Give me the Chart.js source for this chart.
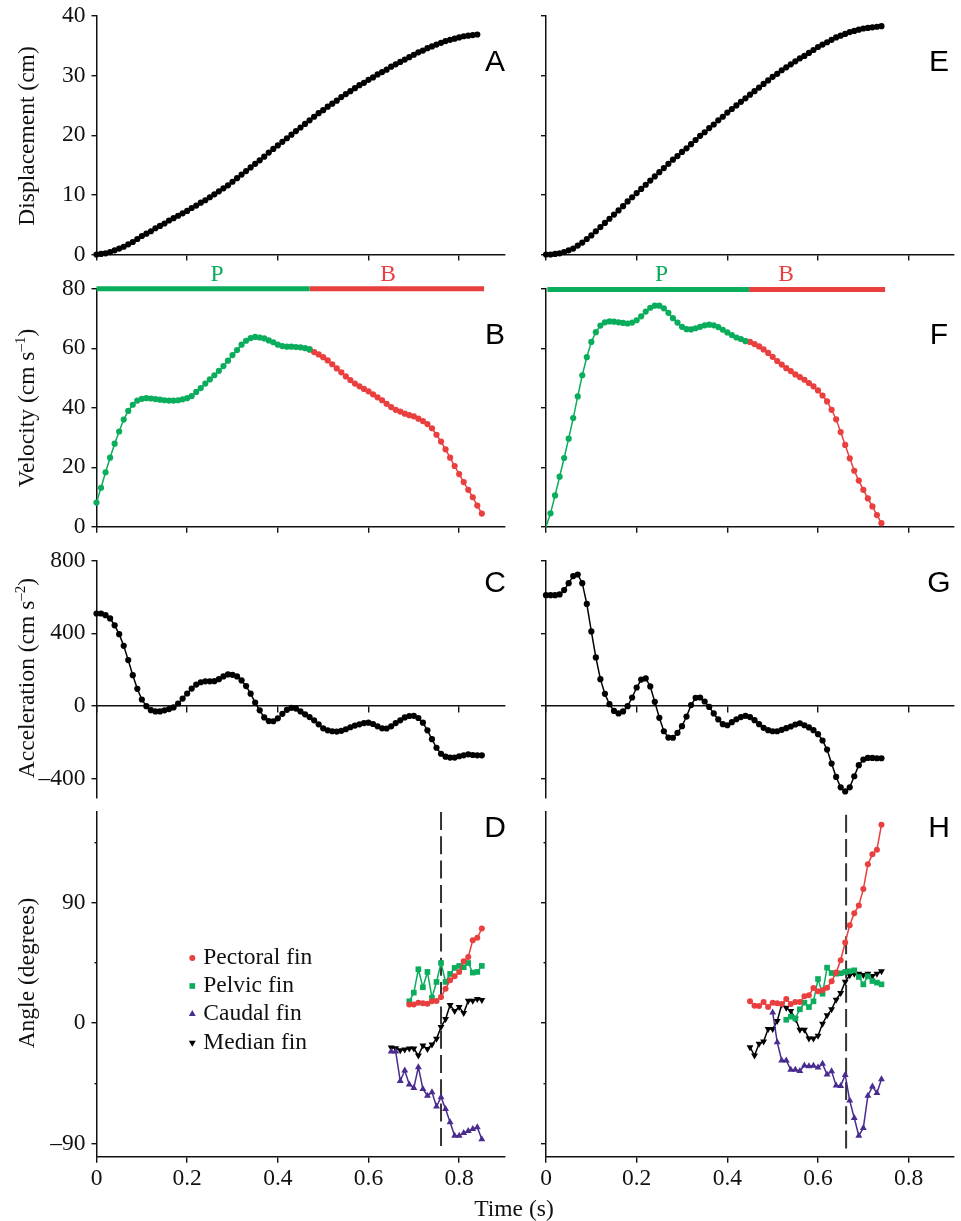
<!DOCTYPE html>
<html>
<head>
<meta charset="utf-8">
<title>Fin kinematics</title>
<script src="https://cdn.jsdelivr.net/npm/chart.js@4/dist/chart.umd.min.js"></script>
<style>
  html, body { margin: 0; padding: 0; background: #fff; }
  #page { position: relative; width: 961px; height: 1221px; overflow: hidden; }
  canvas { position: absolute; left: 0; top: 0; }
</style>
</head>
<body>
<div id="page"></div>
<script>
// sample times (s), shared by the top three rows of both columns
const sampleTimes = [0,0.01,0.02,0.03,0.04,0.05,0.06,0.07,0.08,0.09,0.1,0.11,0.12,0.13,0.14,0.15,0.16,0.17,0.18,0.19,
  0.2,0.21,0.22,0.23,0.24,0.25,0.26,0.27,0.28,0.29,0.3,0.31,0.32,0.33,0.34,0.35,0.36,0.37,0.38,0.39,
  0.4,0.41,0.42,0.43,0.44,0.45,0.46,0.47,0.48,0.49,0.5,0.51,0.52,0.53,0.54,0.55,0.56,0.57,0.58,0.59,
  0.6,0.61,0.62,0.63,0.64,0.65,0.66,0.67,0.68,0.69,0.7,0.71,0.72,0.73,0.74,0.75,0.76,0.77,0.78,0.79,
  0.8,0.81,0.82,0.83,0.84,0.85];

// left column
const displacementA = [0,0.1,0.2,0.4,0.7,1,1.3,1.7,2.1,2.6,3.1,3.5,3.9,4.4,4.8,5.2,5.7,6.1,6.5,6.9,
  7.3,7.8,8.2,8.7,9.1,9.6,10.1,10.6,11.1,11.6,12.2,12.8,13.4,14,14.6,15.2,15.8,16.4,17.1,17.7,
  18.3,18.9,19.5,20.1,20.7,21.3,21.9,22.5,23.1,23.7,24.2,24.8,25.3,25.8,26.4,26.9,27.4,27.9,28.4,28.8,
  29.3,29.7,30.2,30.6,31,31.5,31.9,32.3,32.7,33.1,33.5,33.9,34.2,34.6,34.9,35.2,35.5,35.8,36,36.2,
  36.4,36.6,36.7,36.8,36.9];
const velocityB = [8.1,13.1,18.3,23.2,27.9,32,36,38.9,41,42.4,43,43.2,43.1,42.9,42.7,42.5,42.4,42.4,42.5,42.8,
  43.2,43.9,45.3,46.6,48.1,49.5,50.9,52.4,54,55.8,57.7,59.4,61.2,62.5,63.4,63.8,63.6,63.3,62.6,62,
  61.2,60.7,60.5,60.5,60.4,60.3,60,59.6,58.7,57.9,57,55.9,54.6,53.2,51.9,50.5,49.3,48.1,47.2,46.3,
  45.5,44.5,43.5,42.5,41.3,40.2,39.3,38.7,38,37.5,37.1,36.3,35.5,34.5,33.1,30.9,28.6,26,23.2,20.4,
  17.7,15,12.4,9.9,7.1,4.4];
const accelerationC = [509,509,500,482,444,395,331,252,169,94,35,-2,-24,-31,-31,-25,-18,-9,13,40,
  68,95,117,130,135,135,136,147,162,173,171,162,140,109,67,18,-25,-64,-84,-85,
  -69,-44,-22,-11,-15,-31,-47,-62,-80,-102,-124,-135,-140,-142,-138,-129,-118,-109,-102,-95,
  -93,-100,-113,-124,-125,-113,-95,-80,-64,-56,-55,-67,-93,-135,-184,-231,-264,-280,-285,-285,
  -278,-273,-267,-271,-273,-273];

const finTimesD = [0.65,0.66,0.67,0.68,0.69,0.7,0.71,0.72,0.73,0.74,0.75,0.76,0.77,0.78,0.79,0.8,0.81,0.82,0.83,0.84,0.85];
const pectoralTimesD = [0.69,0.7,0.71,0.72,0.73,0.74,0.75,0.76,0.77,0.78,0.79,0.8,0.81,0.82,0.83,0.84,0.85];
const pectoralD = [14,14,15.3,14.8,14.5,16.3,16.5,19.5,25.8,32,35,38.3,46.3,49.5,62,63.8,70.8];
const pelvicD = [16.3,22.8,40.3,26.8,38.3,19,30.8,45,30.8,36.8,41.3,42.8,41.8,45,37.8,38.3,42.8];
const caudalD = [-21.3,-21.3,-43.3,-35.5,-46,-48.5,-33,-49.3,-54.3,-51.8,-62.5,-55.5,-64.3,-74.3,-84.3,-84.3,-82.3,-80.8,-79.3,-78,-87];
const medianD = [-18.3,-18.8,-20.3,-19.8,-19,-19,-24.3,-16.8,-19.3,-16,-11.8,-3,3,13.5,9,12,7.5,16.8,16.8,18,17.3];

// right column
const displacementE = [0,0,0.1,0.2,0.4,0.7,1,1.5,2,2.6,3.2,3.9,4.6,5.3,6,6.7,7.4,8.1,8.9,9.6,
  10.3,11,11.7,12.4,13.1,13.8,14.5,15.2,15.9,16.5,17.2,17.8,18.5,19.2,19.9,20.5,21.2,21.8,22.5,23.1,
  23.8,24.4,25,25.6,26.2,26.8,27.4,28,28.6,29.2,29.8,30.3,30.9,31.4,31.9,32.4,32.9,33.3,33.8,34.3,
  34.8,35.2,35.6,36,36.4,36.7,37,37.3,37.5,37.7,37.9,38,38.1,38.2,38.3];
const velocityF = [0,4.5,10.5,16.8,23.1,29.6,36.5,43.8,50.9,57,62.1,65.4,67.6,68.7,69,68.9,68.7,68.5,68.3,68.6,
  69.4,70.7,72.3,73.6,74.3,74.3,73.4,71.9,70.1,68.6,67.2,66.4,66.3,66.7,67.2,67.7,67.9,67.7,67.1,66.2,
  65.3,64.4,63.6,63.1,62.4,62.1,61.4,60.6,59.6,58.4,57.1,55.7,54.5,53.3,52.3,51.2,50.3,49.4,48.3,47.2,
  45.8,44.1,42.1,39.3,36.1,31.8,27.5,23,18.8,15.5,12.4,9.5,6.8,3.9,1.2];
const accelerationG = [610,610,610,614,638,676,715,724,676,562,410,267,147,66,9,-28,-42,-31,-2,46,
  101,145,151,107,22,-66,-140,-175,-176,-149,-112,-59,4,44,46,24,-6,-42,-75,-101,
  -107,-90,-74,-62,-55,-62,-79,-101,-121,-134,-140,-140,-132,-123,-114,-103,-96,-107,-119,-134,
  -156,-191,-241,-318,-392,-449,-472,-449,-388,-327,-296,-287,-287,-289,-289];

const pectoralTimesH = [0.45,0.46,0.47,0.48,0.49,0.5,0.51,0.52,0.53,0.54,0.55,0.56,0.57,0.58,0.59,0.6,0.61,0.62,0.63,0.64,0.65,0.66,0.67,0.68,0.69,0.7,0.71,0.72,0.73,0.74];
const pectoralH = [16.3,13,12.8,15.8,12,15.3,14.8,14.3,18,14.3,15.8,15.8,20,20.8,26.3,23.8,24.5,26.5,31.3,37.8,47,60.3,73.3,82.3,88,100.3,118.8,126.3,129.8,148.5];
const pelvicTimesH = [0.53,0.54,0.55,0.56,0.57,0.58,0.59,0.6,0.61,0.62,0.63,0.64,0.65,0.66,0.67,0.68,0.69,0.7,0.71,0.72,0.73,0.74];
const pelvicH = [2.5,4.8,3.5,10.3,15.3,12,16.3,33,22,41.5,37.5,37,37.3,38.3,38.8,39.5,34.5,29,35,31.5,30.3,29];
const caudalTimesH = [0.5,0.51,0.52,0.53,0.54,0.55,0.56,0.57,0.58,0.59,0.6,0.61,0.62,0.63,0.64,0.65,0.66,0.67,0.68,0.69,0.7,0.71,0.72,0.73,0.74];
const caudalH = [8,-14.3,-28,-28,-35,-35,-35.8,-31.8,-32.3,-32,-33.3,-30.5,-38.5,-36,-46.8,-47,-38.8,-58,-71,-84.3,-78.5,-54.3,-47.5,-52.3,-42];
const medianH = [-18,-24.3,-15.5,-13.8,-4.5,-4.5,1.5,14,11.5,9,3.3,-5,-5,-11.5,-11.5,-9.5,-0.5,5.8,10.3,17.5,22.5,31,35.8,37,37,36,37,35.3,37,38.8];

// propulsive / braking phases and the dashed event lines
const phaseTimesLeft = [0, 0.47, 0.855];
const phaseTimesRight = [0.003, 0.448, 0.748];
const velocitySplitLeft = 0.47;
const velocitySplitRight = 0.44;
const eventTimeD = 0.76;
const eventTimeH = 0.662;

// axis ticks
const timeTicks = [0, 0.2, 0.4, 0.6, 0.8];
const timeLabels = ["0", "0.2", "0.4", "0.6", "0.8"];
const displacementTicks = [0, 10, 20, 30, 40];
const displacementLabels = ["0", "10", "20", "30", "40"];
const velocityTicks = [0, 20, 40, 60, 80];
const velocityLabels = ["0", "20", "40", "60", "80"];
const accelerationTicks = [-400, 0, 400, 800];
const accelerationLabels = ["–400", "0", "400", "800"];
const angleTicks = [-90, 0, 90];
const angleMinorTicks = [-45, 45, 135];
const angleLabels = ["–90", "0", "90"];
const finNames = ["Pectoral fin", "Pelvic fin", "Caudal fin", "Median fin"];

const GREEN = "#0aad5c", RED = "#e93f3f", PURPLE = "#4a2c8f", BLACK = "#000";
const SERIF = '"Liberation Serif", serif';
const SANS = '"Liberation Sans", sans-serif';
const FONT_SIZE = 23.5;

const finStyles = [
  { color: RED, pointStyle: "circle", radius: 3, rotation: 0 },
  { color: GREEN, pointStyle: "rect", radius: 4, rotation: 0 },
  { color: PURPLE, pointStyle: "triangle", radius: 4, rotation: 0 },
  { color: BLACK, pointStyle: "triangle", radius: 4, rotation: 180 },
];

function toPoints(times, values) {
  return values.map((v, i) => ({ x: times[i], y: v }));
}

function curve(points, color, radius) {
  return {
    data: points, borderColor: color, backgroundColor: color, borderWidth: 1.5,
    pointRadius: radius || 3.1, pointBorderWidth: 0,
    tension: 0, clip: false,
  };
}

function phaseBar(times, level) {
  return [
    { data: [{ x: times[0], y: level }, { x: times[1], y: level }], borderColor: GREEN, borderWidth: 5, pointRadius: 0, clip: false },
    { data: [{ x: times[1], y: level }, { x: times[2], y: level }], borderColor: RED, borderWidth: 5, pointRadius: 0, clip: false },
  ];
}

function finCurve(times, values, style) {
  return {
    data: toPoints(times, values), borderColor: style.color, backgroundColor: style.color, borderWidth: 1.5,
    pointStyle: style.pointStyle, pointRadius: style.radius, pointRotation: style.rotation, pointBorderWidth: 0,
    tension: 0, clip: false,
  };
}

function eventLine(t, yTop, yBottom) {
  return {
    data: [{ x: t, y: yTop }, { x: t, y: yBottom }], borderColor: "#333", borderWidth: 2,
    borderDash: [18, 6.3], pointRadius: 0, clip: false,
  };
}

// draws a rotated axis title, with optional superscript part
function drawYTitle(ctx, parts, x, centerY) {
  ctx.save();
  ctx.translate(x, centerY);
  ctx.rotate(-Math.PI / 2);
  ctx.fillStyle = "#111";
  ctx.textAlign = "left";
  ctx.textBaseline = "alphabetic";
  let total = 0;
  parts.forEach(p => {
    ctx.font = (p.sup ? 15 : FONT_SIZE) + "px " + SERIF;
    total += ctx.measureText(p.text).width;
  });
  let pos = -total / 2;
  parts.forEach(p => {
    ctx.font = (p.sup ? 15 : FONT_SIZE) + "px " + SERIF;
    ctx.fillText(p.text, pos, p.sup ? -9 : 0);
    pos += ctx.measureText(p.text).width;
  });
  ctx.restore();
}

function drawText(ctx, text, x, y, font, color, align, baseline) {
  ctx.save();
  ctx.font = font;
  ctx.fillStyle = color;
  ctx.textAlign = align || "center";
  ctx.textBaseline = baseline || "alphabetic";
  ctx.fillText(text, x, y);
  ctx.restore();
}

// panel letter, axis title and other bits the axes do not cover
const panelText = {
  id: "panelText",
  afterDraw(chart, args, opts) {
    const ctx = chart.ctx;
    drawText(ctx, opts.letter.text, opts.letter.x, opts.letter.y, "30px " + SANS, "#000", "center", "middle");
    if (opts.yTitle) drawYTitle(ctx, opts.yTitle.parts, opts.yTitle.x, opts.yTitle.y);
    (opts.phases || []).forEach(p => drawText(ctx, p.text, p.x, 281, FONT_SIZE + "px " + SERIF, p.color));
    if (opts.xTitle) drawText(ctx, opts.xTitle.text, opts.xTitle.x, opts.xTitle.y, FONT_SIZE + "px " + SERIF, "#111");
    if (opts.legend) {
      opts.legend.names.forEach((name, i) => {
        const y = opts.legend.ys[i], st = finStyles[i];
        ctx.save();
        ctx.fillStyle = st.color;
        ctx.strokeStyle = st.color;
        Chart.helpers.drawPoint(ctx, { pointStyle: st.pointStyle, radius: st.radius, rotation: st.rotation, borderWidth: 0 }, opts.legend.markerX, y);
        ctx.restore();
        drawText(ctx, name, opts.legend.textX, y, FONT_SIZE + "px " + SERIF, "#111", "left", "middle");
      });
    }
  },
};

// tick labels must not push the plot box away from its place
function noLabelPadding(s) {
  s.paddingTop = 0;
  s.paddingBottom = 0;
  s.paddingLeft = 0;
  s.paddingRight = 0;
}

function panel(cfg) {
  const canvas = document.createElement("canvas");
  canvas.width = 961;
  canvas.height = 1221;
  canvas.style.width = "961px";
  canvas.style.height = "1221px";
  document.getElementById("page").appendChild(canvas);

  const box = cfg.box;

  const scales = {
    x: {
      type: "linear",
      min: 0,
      max: 0.9,
      position: cfg.xAtZero ? { y: 0 } : "bottom",
      afterBuildTicks(s) { s.ticks = timeTicks.map(v => ({ value: v })); },
      afterFit(s) { s.height = cfg.xAtZero ? 0 : 1221 - box.bottom; noLabelPadding(s); },
      grid: { display: true, drawOnChartArea: false, drawTicks: true, tickLength: 6, color: "#111", lineWidth: 1.4 },
      border: { display: true, color: "#111", width: 1.5 },
      ticks: {
        display: !!cfg.xLabels,
        autoSkip: false,
        maxRotation: 0,
        padding: 2,
        color: "#111",
        font: { family: SERIF, size: FONT_SIZE },
        callback: (v) => timeLabels[timeTicks.indexOf(v)],
      },
    },
    y: {
      type: "linear",
      min: cfg.yMin,
      max: cfg.yMax,
      position: "left",
      afterBuildTicks(s) { s.ticks = cfg.yTicks.map(v => ({ value: v })); },
      afterFit(s) { s.width = box.left; noLabelPadding(s); },
      grid: { display: true, drawOnChartArea: false, drawTicks: true, tickLength: 5, color: "#111", lineWidth: 1.4 },
      border: { display: true, color: "#111", width: 1.5 },
      ticks: {
        display: !!cfg.yLabels,
        autoSkip: false,
        padding: 6,
        color: "#111",
        font: { family: SERIF, size: FONT_SIZE },
        callback: (v) => (cfg.yLabels ? cfg.yLabels[cfg.yTicks.indexOf(v)] : ""),
      },
    },
  };

  // shorter unlabelled ticks on the angle axis
  if (cfg.yMinorTicks) {
    scales.yMinor = {
      type: "linear",
      min: cfg.yMin,
      max: cfg.yMax,
      position: { x: 0 },
      afterBuildTicks(s) { s.ticks = cfg.yMinorTicks.map(v => ({ value: v })); },
      afterFit: noLabelPadding,
      grid: { display: true, drawOnChartArea: false, drawTicks: true, tickLength: 2.5, color: "#111", lineWidth: 1.4 },
      border: { display: false },
      ticks: { display: false, autoSkip: false },
    };
  }

  new Chart(canvas.getContext("2d"), {
    type: "scatter",
    data: { datasets: cfg.datasets.map(d => Object.assign({ showLine: true }, d)) },
    plugins: [panelText],
    options: {
      responsive: false,
      animation: false,
      devicePixelRatio: 1,
      layout: {
        autoPadding: false,
        // the axes are given the rest of the page as their own size, so the plot box lands exactly on box
        padding: { left: 0, top: box.top, right: 961 - box.right, bottom: cfg.xAtZero ? 1221 - box.bottom : 0 },
      },
      plugins: {
        legend: { display: false },
        tooltip: { enabled: false },
        panelText: cfg.text,
      },
      scales: scales,
    },
  });
}

const LEFT = { left: 96.5, right: 504.5 };
const RIGHT = { left: 546, right: 954 };
const ROW_A = { top: 16, bottom: 254.5 };
const ROW_B = { top: 288.7, bottom: 526.7 };
const ROW_C = { top: 560.7, bottom: 798 };
const ROW_D = { top: 812, bottom: 1156.7 };

// top row: displacement
panel({
  box: Object.assign({}, LEFT, ROW_A), yMin: 0, yMax: 40, yTicks: displacementTicks, yLabels: displacementLabels,
  datasets: [curve(toPoints(sampleTimes, displacementA), BLACK)],
  text: { letter: { text: "A", x: 495, y: 63 }, yTitle: { parts: [{ text: "Displacement (cm)" }], x: 34, y: 136 } },
});
panel({
  box: Object.assign({}, RIGHT, ROW_A), yMin: 0, yMax: 40, yTicks: displacementTicks,
  datasets: [curve(toPoints(sampleTimes, displacementE), BLACK)],
  text: { letter: { text: "E", x: 939, y: 63 } },
});

// second row: velocity with phase bar
panel({
  box: Object.assign({}, LEFT, ROW_B), yMin: 0, yMax: 80, yTicks: velocityTicks, yLabels: velocityLabels,
  datasets: [
    ...phaseBar(phaseTimesLeft, 80),
    curve(toPoints(sampleTimes, velocityB).filter(p => p.x <= velocitySplitLeft), GREEN),
    curve(toPoints(sampleTimes, velocityB).filter(p => p.x >= velocitySplitLeft), RED),
  ],
  text: {
    letter: { text: "B", x: 495, y: 336 },
    yTitle: { parts: [{ text: "Velocity (cm s" }, { text: "–1", sup: true }, { text: ")" }], x: 34, y: 408 },
    phases: [{ text: "P", x: 217, color: GREEN }, { text: "B", x: 388, color: RED }],
  },
});
panel({
  box: Object.assign({}, RIGHT, ROW_B), yMin: 0, yMax: 80, yTicks: velocityTicks,
  datasets: [
    ...phaseBar(phaseTimesRight, 79.7),
    // the first sample sits on the origin and shows no dot in the figure
    curve(toPoints(sampleTimes, velocityF).filter(p => p.x <= velocitySplitRight), GREEN, (c) => (c.dataIndex === 0 ? 0 : 3.1)),
    curve(toPoints(sampleTimes, velocityF).filter(p => p.x >= velocitySplitRight), RED),
  ],
  text: {
    letter: { text: "F", x: 939, y: 336 },
    phases: [{ text: "P", x: 661.5, color: GREEN }, { text: "B", x: 786, color: RED }],
  },
});

// third row: acceleration, x axis sits on y = 0
panel({
  box: Object.assign({}, LEFT, ROW_C), yMin: -508, yMax: 800, yTicks: accelerationTicks, yLabels: accelerationLabels, xAtZero: true,
  datasets: [curve(toPoints(sampleTimes, accelerationC), BLACK)],
  text: {
    letter: { text: "C", x: 495, y: 584 },
    yTitle: { parts: [{ text: "Acceleration (cm s" }, { text: "–2", sup: true }, { text: ")" }], x: 34, y: 678 },
  },
});
panel({
  box: Object.assign({}, RIGHT, ROW_C), yMin: -508, yMax: 800, yTicks: accelerationTicks, xAtZero: true,
  datasets: [curve(toPoints(sampleTimes, accelerationG), BLACK)],
  text: { letter: { text: "G", x: 939, y: 584 } },
});

// bottom row: fin angles
panel({
  box: Object.assign({}, LEFT, ROW_D), yMin: -100, yMax: 158, yTicks: angleTicks, yMinorTicks: angleMinorTicks, yLabels: angleLabels, xLabels: true,
  datasets: [
    finCurve(pectoralTimesD, pectoralD, finStyles[0]),
    finCurve(pectoralTimesD, pelvicD, finStyles[1]),
    finCurve(finTimesD, caudalD, finStyles[2]),
    finCurve(finTimesD, medianD, finStyles[3]),
    eventLine(eventTimeD, 158, -94),
  ],
  text: {
    letter: { text: "D", x: 495, y: 829 },
    yTitle: { parts: [{ text: "Angle (degrees)" }], x: 34, y: 973 },
    xTitle: { text: "Time (s)", x: 514, y: 1216 },
    legend: { names: finNames, ys: [958, 986, 1014, 1042.7], markerX: 192.3, textX: 203.3 },
  },
});
panel({
  box: Object.assign({}, RIGHT, ROW_D), yMin: -100, yMax: 158, yTicks: angleTicks, yMinorTicks: angleMinorTicks, xLabels: true,
  datasets: [
    finCurve(pectoralTimesH, pectoralH, finStyles[0]),
    finCurve(pelvicTimesH, pelvicH, finStyles[1]),
    finCurve(caudalTimesH, caudalH, finStyles[2]),
    finCurve(pectoralTimesH, medianH, finStyles[3]),
    eventLine(eventTimeH, 156, -94),
  ],
  text: { letter: { text: "H", x: 939, y: 829 } },
});
</script>
</body>
</html>
